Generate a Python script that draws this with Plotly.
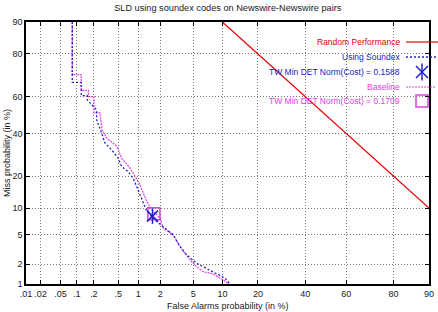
from statistics import NormalDist
import plotly.graph_objects as go

nd = NormalDist()
def pr(p):
    return nd.inv_cdf(p / 100.0)

# ---- data (percent) ----
x_tick_vals = [0.01, 0.02, 0.05, 0.1, 0.2, 0.5, 1, 2, 5, 10, 20, 40, 60, 80, 90]
x_tick_text = [".01", ".02", ".05", ".1", ".2", ".5", "1", "2", "5", "10", "20", "40", "60", "80", "90"]
y_tick_vals = [1, 2, 5, 10, 20, 40, 60, 80, 90]
y_tick_text = ["1", "2", "5", "10", "20", "40", "60", "80", "90"]

random_fa = [10, 90]
random_miss = [90, 10]

soundex_fa = [0.083, 0.083, 0.121, 0.121, 0.155, 0.155, 0.224, 0.224, 0.27, 0.308, 0.395, 0.497,
              0.567, 0.714, 0.847, 0.99, 1.13, 1.33, 1.70, 2.19, 2.93, 3.53, 4.23, 5.47, 6.98,
              8.80, 10.6, 11.9]
soundex_miss = [90, 67.4, 67.4, 60.6, 60.6, 58.2, 52.8, 47.3, 40.3, 35.0, 31.6, 27.8,
                23.9, 21.8, 19.2, 15.1, 12.1, 9.1, 7.4, 6.2, 4.94, 3.50, 2.70, 2.06, 1.74,
                1.47, 1.23, 0.97]

baseline_fa = [0.083, 0.083, 0.121, 0.121, 0.162, 0.162, 0.202, 0.202, 0.255, 0.275, 0.328, 0.474,
               0.567, 0.757, 0.93, 1.06, 1.32, 1.55, 1.99, 2.19, 2.93, 3.53, 4.61, 5.47, 6.44,
               8.15, 10.2, 11.6]
baseline_miss = [90, 71.1, 71.1, 63.3, 63.3, 60.0, 60.0, 51.2, 51.2, 41.9, 37.6, 33.5,
                 27.6, 23.3, 19.3, 16.8, 11.7, 9.56, 7.77, 5.95, 4.94, 3.50, 2.30, 1.84, 1.55,
                 1.43, 1.16, 0.97]

soundex_min_fa, soundex_min_miss = [1.58], [8.2]
baseline_min_fa, baseline_min_miss = [1.65], [8.7]

legend_labels = ["Random Performance", "Using Soundex", "TW Min DET Norm(Cost) = 0.1588",
                 "Baseline", "TW Min DET Norm(Cost) = 0.1709"]

RED = "#e00000"
BLUE = "#2020cc"
MAG = "#e040e0"
FONT = "Liberation Sans, Arial, sans-serif"

fig = go.Figure()

fig.add_trace(go.Scatter(x=[pr(v) for v in random_fa], y=[pr(v) for v in random_miss],
                         mode="lines", line=dict(color=RED, width=1.2)))
fig.add_trace(go.Scatter(x=[pr(v) for v in baseline_fa], y=[pr(v) for v in baseline_miss],
                         mode="lines", line=dict(color=MAG, width=1.2, dash="2px,1px")))
fig.add_trace(go.Scatter(x=[pr(v) for v in soundex_fa], y=[pr(v) for v in soundex_miss],
                         mode="lines", line=dict(color=BLUE, width=1.3, dash="2px,2px")))
# min cost markers
fig.add_trace(go.Scatter(x=[pr(v) for v in baseline_min_fa], y=[pr(v) for v in baseline_min_miss],
                         mode="markers", marker=dict(symbol="square-open", size=12, color=MAG,
                                                     line=dict(width=1.5, color=MAG))))
for sym in ["x-thin-open", "line-ns-open"]:
    fig.add_trace(go.Scatter(x=[pr(v) for v in soundex_min_fa], y=[pr(v) for v in soundex_min_miss],
                             mode="markers", marker=dict(symbol=sym, size=11, color=BLUE,
                                                         line=dict(width=1.5, color=BLUE))))

# ---- manual gnuplot-style legend ----
W, H = 403.0, 262.0
def px(xp):
    return (xp - 26) / W
def py(yp):
    return (284 - yp) / H

leg_y = [42, 57, 72, 87, 101]
leg_col = [RED, BLUE, BLUE, MAG, MAG]
for lab, yy, c in zip(legend_labels, leg_y, leg_col):
    fig.add_annotation(x=px(402), y=py(yy), xref="paper", yref="paper", text=lab,
                       showarrow=False, xanchor="right", yanchor="middle",
                       font=dict(family=FONT, size=8.5, color=c))
fig.add_shape(type="line", xref="paper", yref="paper", x0=px(406), x1=px(438), y0=py(42), y1=py(42),
              line=dict(color=RED, width=1.2))
fig.add_shape(type="line", xref="paper", yref="paper", x0=px(406), x1=px(436), y0=py(57), y1=py(57),
              line=dict(color=BLUE, width=1.3, dash="2px,2px"))
fig.add_shape(type="line", xref="paper", yref="paper", x0=px(406), x1=px(436), y0=py(87), y1=py(87),
              line=dict(color=MAG, width=1.2, dash="2px,1px"))
fig.add_trace(go.Scatter(x=[px(422)], y=[py(101)], xaxis="x2", yaxis="y2", mode="markers",
                         cliponaxis=False,
                         marker=dict(symbol="square-open", size=12, color=MAG, line=dict(width=1.5, color=MAG))))
for sym in ["x-thin-open", "line-ns-open"]:
    fig.add_trace(go.Scatter(x=[px(422)], y=[py(72)], xaxis="x2", yaxis="y2", mode="markers",
                             cliponaxis=False,
                             marker=dict(symbol=sym, size=12, color=BLUE, line=dict(width=1.5, color=BLUE))))

axis_common = dict(showgrid=True, gridcolor="#777", griddash="1px,2px", gridwidth=1,
                   ticks="inside", ticklen=4, tickcolor="black", tickwidth=1,
                   showline=True, linecolor="black", linewidth=1.5, mirror="ticks",
                   zeroline=False, automargin=False, tickangle=0,
                   tickfont=dict(family=FONT, size=9, color="#222"))

fig.update_layout(
    width=438, height=312,
    margin=dict(l=26, r=9, t=22, b=28),
    plot_bgcolor="white", paper_bgcolor="white",
    showlegend=False,
    font=dict(family=FONT, size=9, color="#222"),
    title=dict(text="SLD using soundex codes on Newswire-Newswire pairs", x=0.52, xanchor="center",
               y=1 - 8 / 312, yanchor="middle", font=dict(family=FONT, size=9.2, color="#222")),
    xaxis=dict(range=[pr(0.01), pr(90)], tickvals=[pr(v) for v in x_tick_vals], ticktext=x_tick_text,
               **axis_common),
    yaxis=dict(range=[pr(1), pr(90)], tickvals=[pr(v) for v in y_tick_vals], ticktext=y_tick_text,
               **axis_common),
    xaxis2=dict(range=[0, 1], overlaying="x", visible=False, fixedrange=True),
    yaxis2=dict(range=[0, 1], overlaying="y", visible=False, fixedrange=True),
)

fig.add_annotation(x=px(228), y=py(306), xref="paper", yref="paper", text="False Alarms probability (in %)",
                   showarrow=False, xanchor="center", yanchor="middle", font=dict(family=FONT, size=9, color="#222"))
fig.add_annotation(x=px(7), y=py(153), xref="paper", yref="paper", text="Miss probability (in %)",
                   showarrow=False, xanchor="center", yanchor="middle", textangle=-90,
                   font=dict(family=FONT, size=9, color="#222"))

fig.write_html("out.html")
